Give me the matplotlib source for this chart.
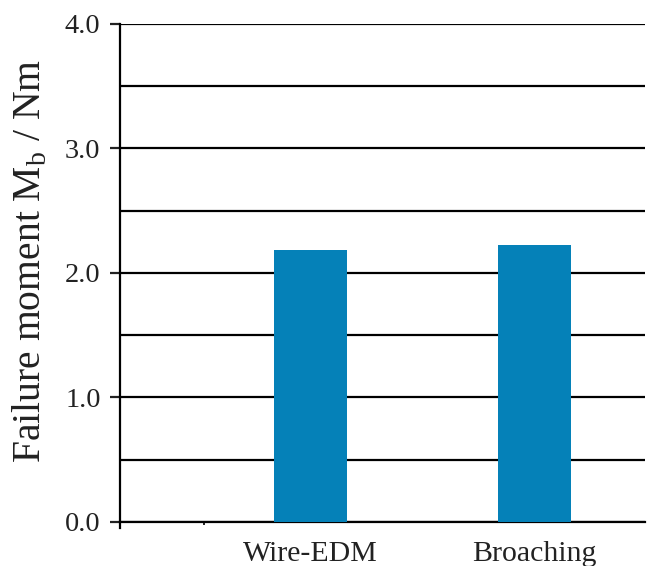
import numpy as np
import matplotlib
matplotlib.use("Agg")
import matplotlib.pyplot as plt
from matplotlib.ticker import MultipleLocator

# ── data ──────────────────────────────────────
categories = ["Wire-EDM", "Broaching"]
failure_moment = [2.18, 2.22]   # Nm
y_tick_labels = ["0.0", "1.0", "2.0", "3.0", "4.0"]

plt.rcParams["font.family"] = ["Liberation Serif", "DejaVu Serif"]
plt.rcParams["mathtext.fontset"] = "custom"
plt.rcParams["mathtext.rm"] = "Liberation Serif"

fig = plt.figure(figsize=(6.49, 5.66), dpi=100)
ax = fig.add_axes([0.185, 0.078, 0.809, 0.880])

x = np.arange(1, len(categories) + 1)
ax.bar(x, failure_moment, width=0.326, color="#0581B8", zorder=3)

ax.set_xlim(0.152, 2.495)
ax.set_ylim(0, 4.0)

# y axis: labelled every 1.0, gridlines every 0.5
ax.yaxis.set_minor_locator(MultipleLocator(0.5))
ax.set_yticks(np.arange(0, 4.01, 1.0))
ax.set_yticklabels(y_tick_labels)
ax.grid(axis="y", which="both", color="black", linewidth=1.6, zorder=1)
ax.tick_params(axis="y", which="major", length=7, width=1.6, pad=7,
               labelsize=20.5, colors="#222222")
ax.tick_params(axis="y", which="minor", length=0)

# x axis (labels run off the bottom edge, as in the source figure)
ax.set_xticks(x)
ax.set_xticklabels(categories)
ax.set_xticks([0.527], minor=True)
ax.tick_params(axis="x", which="major", length=0, pad=14, labelsize=21.5,
               colors="#222222")
ax.tick_params(axis="x", which="minor", length=2, width=1.2, direction="out")

for side in ["top", "right"]:
    ax.spines[side].set_visible(False)
ax.spines["left"].set_linewidth(1.6)
ax.spines["bottom"].set_linewidth(1.6)
ax.spines["left"].set_bounds(-0.05, 4.0)

ax.set_ylabel("Failure moment M$_\\mathrm{b}$ / Nm", fontsize=28.5, color="#222222")
ax.yaxis.set_label_coords(-0.135, 0.523)

plt.savefig("out.png", dpi=100)
plt.close()
